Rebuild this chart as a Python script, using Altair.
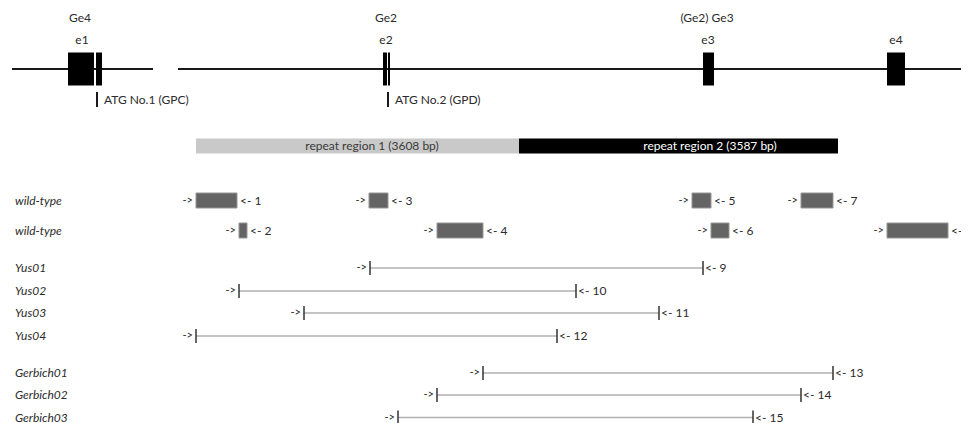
import altair as alt
import pandas as pd

# ---------------- data (map positions along the locus, arbitrary map units) ----------------
gene_seg_start = [12, 178]
gene_seg_end = [153, 969]

exon_start = [68, 96, 383, 388, 703, 887]
exon_end = [94, 102, 387, 390, 714, 905]

group_labels = ["Ge4", "Ge2", "(Ge2) Ge3"]
group_pos = [80, 386, 707]
exon_labels = ["e1", "e2", "e3", "e4"]
exon_label_pos = [82, 386, 708, 896]

atg_labels = ["ATG No.1 (GPC)", "ATG No.2 (GPD)"]
atg_pos = [97, 388]

repeat_labels = ["repeat region 1 (3608 bp)", "repeat region 2 (3587 bp)"]
repeat_keys = ["r1", "r2"]
repeat_start = [196, 519]
repeat_end = [519, 838]
repeat_label_pos = [372, 710]

wt_ids = [1, 2, 3, 4, 5, 6, 7, 8]
wt_row = ["wt1", "wt2", "wt1", "wt2", "wt1", "wt2", "wt1", "wt2"]
wt_start = [196, 239, 369, 437, 692, 711, 801, 887]
wt_end = [237, 247, 388, 483, 711, 729, 833, 948]

long_samples = ["Yus01", "Yus02", "Yus03", "Yus04", "Gerbich01", "Gerbich02", "Gerbich03"]
long_ids = [9, 10, 11, 12, 13, 14, 15]
long_start = [370, 239, 304, 196, 483, 437, 398]
long_end = [703, 576, 659, 557, 833, 801, 753]

row_labels = ["wild-type", "wild-type"] + long_samples
row_keys = ["wt1", "wt2"] + long_samples

# ---------------- layout (vertical placement of tracks) ----------------
ROW_Y = {"wt1": 200.5, "wt2": 230.5, "Yus01": 268, "Yus02": 291, "Yus03": 313,
         "Yus04": 336, "Gerbich01": 373, "Gerbich02": 395, "Gerbich03": 417.5}
GENE_Y = 69
GROUP_Y = 18
EXLAB_Y = 40
ATG_Y = 99.5
REPEAT_Y = 146
ROW_LABEL_X = 15

W, H = 953, 415
FONT = "Lato"
FS = 12
TXT = "#2b2b2b"

xs = alt.Scale(domain=[8, 8 + W], nice=False, zero=False)
ys = alt.Scale(domain=[8, 8 + H], nice=False, zero=False, reverse=True)


def X(f):
    return alt.X(f, type="quantitative", scale=xs, axis=None)


def X2(f):
    return alt.X2(f)


def Y(f):
    return alt.Y(f, type="quantitative", scale=ys, axis=None)


# ---------------- tables ----------------
gene_df = pd.DataFrame({"s": gene_seg_start, "e": gene_seg_end, "y": GENE_Y})
exon_df = pd.DataFrame({"s": exon_start, "e": exon_end, "y": GENE_Y})
grp_df = pd.DataFrame({"t": group_labels, "x": group_pos, "y": GROUP_Y})
exl_df = pd.DataFrame({"t": exon_labels, "x": exon_label_pos, "y": EXLAB_Y})
atg_df = pd.DataFrame({"t": atg_labels, "x": atg_pos, "y": ATG_Y})
rep_df = pd.DataFrame({"t": repeat_labels, "s": repeat_start, "e": repeat_end,
                       "lx": repeat_label_pos, "y": REPEAT_Y, "k": repeat_keys})
wt_df = pd.DataFrame({"id": wt_ids, "s": wt_start, "e": wt_end,
                      "y": [ROW_Y[r] for r in wt_row]})
wt_df["lab"] = "<- " + wt_df["id"].astype(str)
lr_df = pd.DataFrame({"id": long_ids, "s": long_start, "e": long_end,
                      "y": [ROW_Y[r] for r in long_samples]})
lr_df["lab"] = "<- " + lr_df["id"].astype(str)
rows_df = pd.DataFrame({"t": row_labels, "y": [ROW_Y[k] for k in row_keys], "x": ROW_LABEL_X})

# ---------------- layers ----------------
gene_line = alt.Chart(gene_df).mark_rule(color="#1a1a1a", strokeWidth=2).encode(
    x=X("s"), x2=X2("e"), y=Y("y"))

exons = alt.Chart(exon_df).transform_calculate(
    t="datum.y - 16.5", b="datum.y + 16.5").mark_rect(color="#000000").encode(
    x=X("s"), x2=X2("e"), y=Y("t"), y2=alt.Y2("b"))

grp_txt = alt.Chart(grp_df).mark_text(font=FONT, fontSize=FS, color=TXT, align="center",
                                      baseline="middle").encode(x=X("x"), y=Y("y"), text="t")
exl_txt = alt.Chart(exl_df).mark_text(font=FONT, fontSize=FS, color=TXT, align="center",
                                      baseline="middle").encode(x=X("x"), y=Y("y"), text="t")

atg_tick = alt.Chart(atg_df).transform_calculate(
    t="datum.y - 7.5", b="datum.y + 7.5").mark_rule(color="#1a1a1a", strokeWidth=2).encode(
    x=X("x"), y=Y("t"), y2=alt.Y2("b"))
atg_txt = alt.Chart(atg_df).mark_text(font=FONT, fontSize=FS, color=TXT, align="left",
                                      baseline="middle", dx=7).encode(x=X("x"), y=Y("y"), text="t")

rep_bar1 = alt.Chart(rep_df).transform_filter("datum.k == 'r1'").transform_calculate(
    t="datum.y - 7.5", b="datum.y + 7.5").mark_rect(color="#c9c9c9").encode(
    x=X("s"), x2=X2("e"), y=Y("t"), y2=alt.Y2("b"))
rep_bar2 = alt.Chart(rep_df).transform_filter("datum.k == 'r2'").transform_calculate(
    t="datum.y - 7.5", b="datum.y + 7.5").mark_rect(color="#000000").encode(
    x=X("s"), x2=X2("e"), y=Y("t"), y2=alt.Y2("b"))
rep_txt1 = alt.Chart(rep_df).transform_filter("datum.k == 'r1'").mark_text(
    font=FONT, fontSize=FS, color="#3a3a3a", align="center", baseline="middle").encode(
    x=X("lx"), y=Y("y"), text="t")
rep_txt2 = alt.Chart(rep_df).transform_filter("datum.k == 'r2'").mark_text(
    font=FONT, fontSize=FS, color="#ffffff", align="center", baseline="middle").encode(
    x=X("lx"), y=Y("y"), text="t")

row_txt = alt.Chart(rows_df).mark_text(font=FONT, fontSize=FS, fontStyle="italic", color=TXT,
                                       align="left", baseline="middle").encode(
    x=X("x"), y=Y("y"), text="t")

wt_box = alt.Chart(wt_df).transform_calculate(
    t="datum.y - 7.5", b="datum.y + 7.5").mark_rect(
    fill="#646464", stroke="#959595", strokeWidth=1).encode(
    x=X("s"), x2=X2("e"), y=Y("t"), y2=alt.Y2("b"))
wt_fwd = alt.Chart(wt_df).mark_text(font=FONT, fontSize=11, color=TXT, align="right",
                                    baseline="middle", dx=-3).encode(
    x=X("s"), y=Y("y"), text=alt.value("->"))
wt_rev = alt.Chart(wt_df).mark_text(font=FONT, fontSize=FS, color=TXT, align="left",
                                    baseline="middle", dx=3).encode(
    x=X("e"), y=Y("y"), text="lab")

lr_line = alt.Chart(lr_df).mark_rule(color="#b0b0b0", strokeWidth=1.5).encode(
    x=X("s"), x2=X2("e"), y=Y("y"))
lr_tick_s = alt.Chart(lr_df).mark_tick(orient="vertical", size=14, thickness=1.5,
                                       color="#333333", opacity=1).encode(x=X("s"), y=Y("y"))
lr_tick_e = alt.Chart(lr_df).mark_tick(orient="vertical", size=14, thickness=1.5,
                                       color="#333333", opacity=1).encode(x=X("e"), y=Y("y"))
lr_fwd = alt.Chart(lr_df).mark_text(font=FONT, fontSize=11, color=TXT, align="right",
                                    baseline="middle", dx=-3).encode(
    x=X("s"), y=Y("y"), text=alt.value("->"))
lr_rev = alt.Chart(lr_df).mark_text(font=FONT, fontSize=FS, color=TXT, align="left",
                                    baseline="middle", dx=2).encode(
    x=X("e"), y=Y("y"), text="lab")

chart = alt.layer(
    gene_line, exons, grp_txt, exl_txt, atg_tick, atg_txt,
    rep_bar1, rep_bar2, rep_txt1, rep_txt2, row_txt,
    wt_box, wt_fwd, wt_rev,
    lr_line, lr_tick_s, lr_tick_e, lr_fwd, lr_rev,
).properties(
    width=W, height=H, padding=0,
    autosize=alt.AutoSizeParams(type="none"),
    background="#ffffff",
).configure_view(stroke=None)

chart.save("out.html", embed_options={"renderer": "svg", "actions": False})
